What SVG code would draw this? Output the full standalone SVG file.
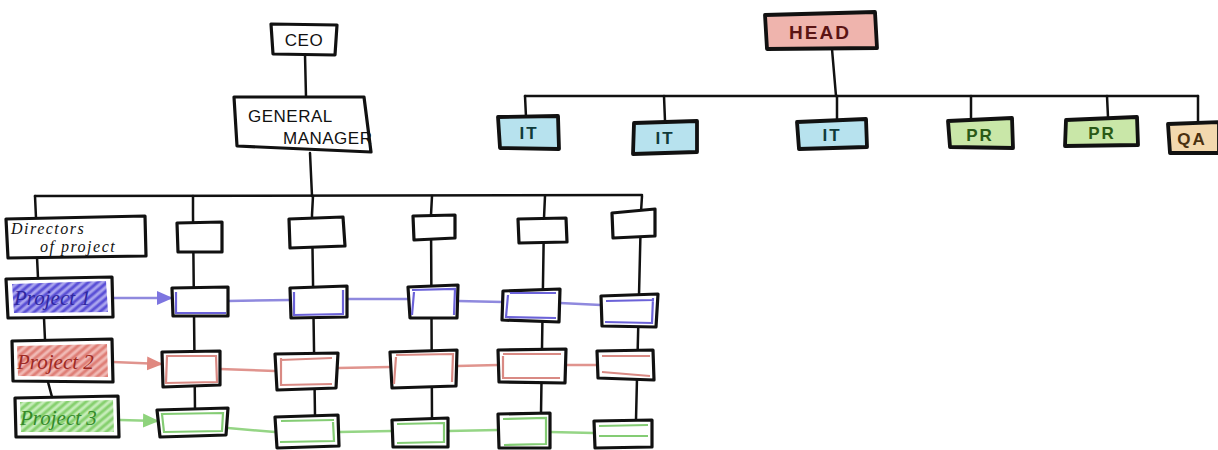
<svg xmlns="http://www.w3.org/2000/svg" width="1218" height="450" viewBox="0 0 1218 450">
  <style>
    .box { fill: #fff; stroke: #111; stroke-width: 3.2; stroke-linejoin: round; }
    .wire { fill: none; stroke: #111; stroke-width: 2.5; stroke-linecap: round; }
    .hand { font-family: "Liberation Sans", "DejaVu Sans", sans-serif; fill: #111; }
    .caps { font-size: 17px; letter-spacing: 0.5px; }
    .tag { font-size: 17px; font-weight: bold; letter-spacing: 2px; text-anchor: middle; }
    .proj { font-family: "Liberation Serif", serif; font-style: italic; font-size: 21px; }
    .inBlue { fill: none; stroke: #6b62d8; stroke-width: 2.2; }
    .inRed { fill: none; stroke: #d98a84; stroke-width: 2.2; }
    .inGreen { fill: none; stroke: #84cc74; stroke-width: 2.2; }
    .lnBlue { fill: none; stroke: #8f89de; stroke-width: 2.5; }
    .lnRed { fill: none; stroke: #e0948e; stroke-width: 2.5; }
    .lnGreen { fill: none; stroke: #95d585; stroke-width: 2.5; }
  </style>
  <defs>
    <pattern id="hatchBlue" width="6" height="6" patternUnits="userSpaceOnUse" patternTransform="rotate(-40)">
      <rect width="6" height="6" fill="#a9a4ee"/>
      <line x1="0" y1="3" x2="6" y2="3" stroke="#5a50d6" stroke-width="3"/>
    </pattern>
    <pattern id="hatchRed" width="6" height="6" patternUnits="userSpaceOnUse" patternTransform="rotate(-40)">
      <rect width="6" height="6" fill="#f0b9b4"/>
      <line x1="0" y1="3" x2="6" y2="3" stroke="#df7f77" stroke-width="3"/>
    </pattern>
    <pattern id="hatchGreen" width="6" height="6" patternUnits="userSpaceOnUse" patternTransform="rotate(-40)">
      <rect width="6" height="6" fill="#c6ecb9"/>
      <line x1="0" y1="3" x2="6" y2="3" stroke="#86d06f" stroke-width="3"/>
    </pattern>
    <marker id="arrBlue" markerWidth="16" markerHeight="16" refX="15" refY="8" orient="auto" markerUnits="userSpaceOnUse">
      <path d="M0,1 L16,8 L0,15 z" fill="#7d75e0"/>
    </marker>
    <marker id="arrRed" markerWidth="16" markerHeight="16" refX="15" refY="8" orient="auto" markerUnits="userSpaceOnUse">
      <path d="M0,1 L16,8 L0,15 z" fill="#e08880"/>
    </marker>
    <marker id="arrGreen" markerWidth="16" markerHeight="16" refX="15" refY="8" orient="auto" markerUnits="userSpaceOnUse">
      <path d="M0,1 L16,8 L0,15 z" fill="#8ed37c"/>
    </marker>
  </defs>

  <rect width="1218" height="450" fill="#fff"/>

  <!-- connectors -->
  <g id="connectors">
    <!-- left tree -->
    <path class="wire" d="M305,55 L306,97"/>
    <path class="wire" d="M310,153 L312,196"/>
    <path class="wire" d="M35,196 L642,195"/>
    <path class="wire" d="M35,196 L36,218"/>
    <path class="wire" d="M37,257 L38,278"/>
    <path class="wire" d="M44,318 L45,340"/>
    <path class="wire" d="M48,382 L52,397"/>
    <path class="wire" d="M193,196 L193,215 L195,410"/>
    <path class="wire" d="M313,196 L312,215 L315,415"/>
    <path class="wire" d="M432,196 L431,215 L432,418"/>
    <path class="wire" d="M545,196 L544,218 L541,414"/>
    <path class="wire" d="M642,196 L641,212 L636,420"/>
    <!-- project rows -->
    <path class="lnBlue" d="M113,298 L172,298" marker-end="url(#arrBlue)"/>
    <path class="lnBlue" d="M228,301 L290,300 M347,299 L408,299 M458,301 L503,302 M560,303 L601,305"/>
    <path class="lnRed" d="M113,362 L162,364" marker-end="url(#arrRed)"/>
    <path class="lnRed" d="M220,369 L275,371 M338,368 L390,367 M457,366 L498,365 M566,365 L597,365"/>
    <path class="lnGreen" d="M120,420 L158,421" marker-end="url(#arrGreen)"/>
    <path class="lnGreen" d="M228,428 L275,432 M339,432 L392,431 M448,431 L498,430 M550,432 L594,433"/>
    <!-- right tree -->
    <path class="wire" d="M832,49 L836,96"/>
    <path class="wire" d="M525,96 L1198,96"/>
    <path class="wire" d="M525,96 L526,117 M664,96 L665,121 M837,96 L837,120 M971,96 L971,118 M1107,96 L1108,117 M1198,96 L1198,123"/>
  </g>

  <!-- left hierarchy -->
  <g id="ceo">
    <path class="box" d="M271,24 L337,25 L335,55 L273,54 Z"/>
    <text class="hand caps" x="304" y="46" text-anchor="middle" font-size="18">CEO</text>
  </g>
  <g id="general-manager">
    <path class="box" d="M234,97 L364,97 L371,152 L237,146 Z"/>
    <text class="hand caps" x="248" y="122">GENERAL</text>
    <text class="hand caps" x="283" y="144">MANAGER</text>
  </g>
  <g id="directors">
    <path class="box" d="M6,219 L145,216 L146,256 L8,258 Z"/>
    <text class="hand proj" x="11" y="234" style="font-size:16px;letter-spacing:1.5px">Directors</text>
    <text class="hand proj" x="40" y="252" style="font-size:16px;letter-spacing:1.5px">of project</text>
  </g>
  <g id="project-1">
    <path d="M12,284 L106,281 L108,312 L14,313 Z" fill="url(#hatchBlue)"/>
    <path class="box" style="fill:none" d="M6,279 L112,277 L113,317 L8,318 Z"/>
    <text class="proj" x="14" y="305" fill="#2f27a0">Project 1</text>
  </g>
  <g id="project-2">
    <path d="M17,346 L107,344 L108,377 L18,376 Z" fill="url(#hatchRed)"/>
    <path class="box" style="fill:none" d="M12,341 L112,339 L113,382 L13,381 Z"/>
    <text class="proj" x="17" y="369" fill="#9e2a24">Project 2</text>
  </g>
  <g id="project-3">
    <path d="M20,402 L113,400 L114,432 L21,432 Z" fill="url(#hatchGreen)"/>
    <path class="box" style="fill:none" d="M15,398 L118,396 L119,437 L16,437 Z"/>
    <text class="proj" x="20" y="425" fill="#358a2a">Project 3</text>
  </g>

  <!-- division heads -->
  <g id="col1-head"><path class="box" d="M177,223 L222,222 L222,252 L178,252 Z"/></g>
  <g id="col2-head"><path class="box" d="M289,219 L343,217 L345,246 L290,248 Z"/></g>
  <g id="col3-head"><path class="box" d="M413,216 L455,215 L455,238 L414,240 Z"/></g>
  <g id="col4-head"><path class="box" d="M518,219 L566,218 L567,242 L519,243 Z"/></g>
  <g id="col5-head"><path class="box" d="M612,213 L655,209 L655,236 L613,238 Z"/></g>

  <!-- project 1 cells -->
  <g id="p1-c1"><path class="box" d="M172,288 L228,287 L228,316 L173,316 Z"/><path class="inBlue" d="M176,292 L176,313 L226,313"/></g>
  <g id="p1-c2"><path class="box" d="M290,288 L347,286 L347,317 L291,318 Z"/><path class="inBlue" d="M294,292 L294,315 L344,314 M343,290 L343,313"/></g>
  <g id="p1-c3"><path class="box" d="M408,287 L458,285 L457,318 L410,318 Z"/><path class="inBlue" d="M414,292 L412,315 M412,290 L455,289 L454,315"/></g>
  <g id="p1-c4"><path class="box" d="M503,291 L560,289 L559,322 L502,320 Z"/><path class="inBlue" d="M508,295 L506,317 L556,318 M510,293 L556,293"/></g>
  <g id="p1-c5"><path class="box" d="M601,296 L658,294 L656,327 L602,326 Z"/><path class="inBlue" d="M606,301 L654,300 M605,322 L652,323 L653,298"/></g>

  <!-- project 2 cells -->
  <g id="p2-c1"><path class="box" d="M162,352 L220,351 L220,385 L163,387 Z"/><path class="inRed" d="M167,356 L216,356 L217,382 L166,383 Z"/></g>
  <g id="p2-c2"><path class="box" d="M275,354 L338,353 L336,388 L277,390 Z"/><path class="inRed" d="M280,360 L332,358 M281,358 L281,385 L332,384"/></g>
  <g id="p2-c3"><path class="box" d="M390,352 L457,350 L456,386 L392,388 Z"/><path class="inRed" d="M396,357 L394,384 M396,355 L453,354 L452,382"/></g>
  <g id="p2-c4"><path class="box" d="M498,350 L566,349 L565,383 L499,382 Z"/><path class="inRed" d="M503,354 L561,354 M502,378 L560,378 M503,356 L503,377"/></g>
  <g id="p2-c5"><path class="box" d="M597,351 L653,350 L654,380 L598,378 Z"/><path class="inRed" d="M602,356 L650,356 M602,372 L650,376"/></g>

  <!-- project 3 cells -->
  <g id="p3-c1"><path class="box" d="M157,410 L228,408 L226,435 L160,437 Z"/><path class="inGreen" d="M162,414 L223,413 L222,431 L164,432 Z"/></g>
  <g id="p3-c2"><path class="box" d="M275,417 L338,415 L339,446 L277,448 Z"/><path class="inGreen" d="M281,421 L334,420 M280,442 L334,441 L333,422"/></g>
  <g id="p3-c3"><path class="box" d="M392,420 L448,418 L448,447 L393,447 Z"/><path class="inGreen" d="M397,424 L444,423 L444,443 M397,443 L443,442"/></g>
  <g id="p3-c4"><path class="box" d="M498,414 L550,413 L550,448 L499,448 Z"/><path class="inGreen" d="M503,419 L546,418 L546,445 M504,445 L545,444"/></g>
  <g id="p3-c5"><path class="box" d="M594,421 L652,420 L652,447 L595,448 Z"/><path class="inGreen" d="M599,426 L648,425 M599,436 L648,436"/></g>

  <!-- right hierarchy -->
  <g id="head">
    <path class="box" d="M765,15 L875,12 L877,48 L767,49 Z" style="fill:#efb4ad;stroke-width:3.8"/>
    <text class="hand tag" x="820" y="39" style="fill:#5a1414;font-size:19px">HEAD</text>
  </g>
  <g id="it-1">
    <path class="box" d="M498,117 L558,116 L559,149 L500,148 Z" style="fill:#b7e2ee;stroke-width:3.8"/>
    <text class="hand tag" x="529" y="139" style="fill:#0f3a3a">IT</text>
  </g>
  <g id="it-2">
    <path class="box" d="M634,123 L697,121 L697,152 L633,154 Z" style="fill:#b7e2ee;stroke-width:3.8"/>
    <text class="hand tag" x="665" y="144" style="fill:#0f3a3a">IT</text>
  </g>
  <g id="it-3">
    <path class="box" d="M797,122 L866,119 L867,147 L799,149 Z" style="fill:#b7e2ee;stroke-width:3.8"/>
    <text class="hand tag" x="832" y="141" style="fill:#0f3a3a">IT</text>
  </g>
  <g id="pr-1">
    <path class="box" d="M948,121 L1012,118 L1013,148 L950,147 Z" style="fill:#c9e7a8;stroke-width:3.8"/>
    <text class="hand tag" x="980" y="141" style="fill:#2a5a16">PR</text>
  </g>
  <g id="pr-2">
    <path class="box" d="M1066,120 L1137,117 L1138,145 L1065,146 Z" style="fill:#c9e7a8;stroke-width:3.8"/>
    <text class="hand tag" x="1102" y="139" style="fill:#2a5a16">PR</text>
  </g>
  <g id="qa">
    <path class="box" d="M1168,124 L1219,122 L1219,153 L1170,153 Z" style="fill:#f3d8ae;stroke-width:3.8"/>
    <text class="hand tag" x="1192" y="145" style="fill:#4a3010">QA</text>
  </g>
</svg>
